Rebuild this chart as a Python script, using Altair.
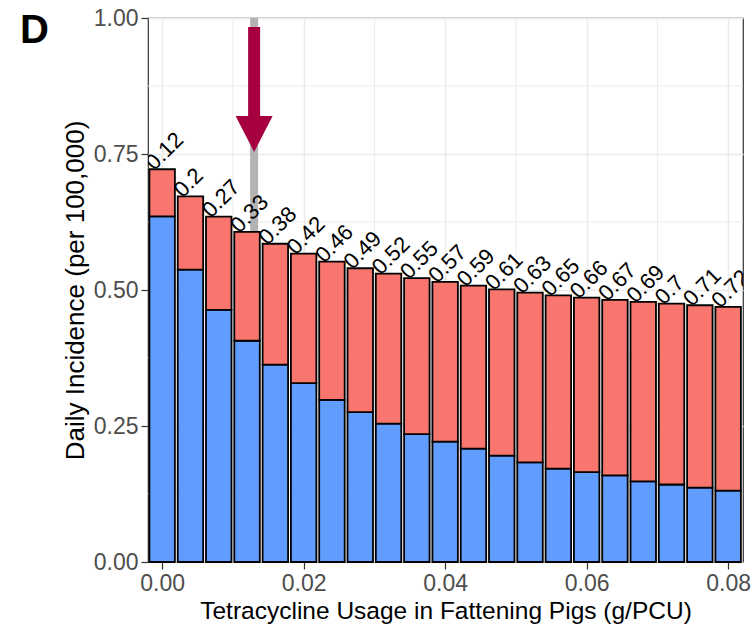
import altair as alt
import pandas as pd

# Tetracycline usage levels (g/PCU), one bar each
usage = [0.000, 0.004, 0.008, 0.012, 0.016, 0.020, 0.024, 0.028, 0.032, 0.036,
         0.040, 0.044, 0.048, 0.052, 0.056, 0.060, 0.064, 0.068, 0.072, 0.076, 0.080]

# Total daily incidence (per 100,000) at each usage level
total_incidence = [0.722, 0.672, 0.635, 0.607, 0.585, 0.567, 0.552, 0.540, 0.530, 0.522,
                   0.515, 0.508, 0.501, 0.495, 0.490, 0.486, 0.482, 0.478, 0.475, 0.472, 0.469]

# Share of the incidence that is resistant (printed above each bar)
resistant_share = [0.12, 0.2, 0.27, 0.33, 0.38, 0.42, 0.46, 0.49, 0.52, 0.55, 0.57,
                   0.59, 0.61, 0.63, 0.65, 0.66, 0.67, 0.69, 0.7, 0.71, 0.72]

# Current usage level, marked by the grey line and the arrow
current_usage = [0.013]

x_ticks = [0.00, 0.02, 0.04, 0.06, 0.08]
y_ticks = [0.00, 0.25, 0.50, 0.75, 1.00]
x_minor = [0.01, 0.03, 0.05, 0.07]
y_minor = [0.125, 0.375, 0.625, 0.875]

parts = ["Sensitive", "Resistant"]
part_colors = ["#619CFF", "#F8766D"]

HALF_WIDTH = 0.0018
FONT = "Liberation Sans"

# Long table of stacked segments
rows = []
for u, tot, share in zip(usage, total_incidence, resistant_share):
    sensitive = tot * (1 - share)
    rows.append({"usage": u, "x1": u - HALF_WIDTH, "x2": u + HALF_WIDTH,
                 "lo": 0.0, "hi": sensitive, "part": "Sensitive"})
    rows.append({"usage": u, "x1": u - HALF_WIDTH, "x2": u + HALF_WIDTH,
                 "lo": sensitive, "hi": tot, "part": "Resistant"})
seg_df = pd.DataFrame(rows)

label_df = pd.DataFrame({"usage": usage, "total": total_incidence,
                         "share": resistant_share})

X_SCALE = alt.Scale(domain=[-0.002, 0.0821], nice=False, zero=False)
Y_SCALE = alt.Scale(domain=[0, 1], nice=False)
X_TITLE = "Tetracycline Usage in Fattening Pigs (g/PCU)"
Y_TITLE = "Daily Incidence (per 100,000)"
x_axis = alt.Axis(values=x_ticks, format=".2f", title=X_TITLE, grid=True)
y_axis = alt.Axis(values=y_ticks, format=".2f", title=Y_TITLE, grid=True)


def xq(field):
    return alt.X(f"{field}:Q", scale=X_SCALE, axis=x_axis)


def yq(field):
    return alt.Y(f"{field}:Q", scale=Y_SCALE, axis=y_axis)


minor_x = alt.Chart(pd.DataFrame({"g": x_minor})).mark_rule(
    color="#ebebeb", strokeWidth=1
).encode(x=xq("g"))

minor_y = alt.Chart(pd.DataFrame({"g": y_minor})).mark_rule(
    color="#ebebeb", strokeWidth=1
).encode(y=yq("g"))

current_line = alt.Chart(pd.DataFrame({"usage": current_usage})).mark_rule(
    color="#b3b3b3", strokeWidth=8
).encode(x=xq("usage"))

bars = alt.Chart(seg_df).mark_bar(
    stroke="black", strokeWidth=1.8, opacity=1
).encode(
    x=xq("x1"),
    x2="x2:Q",
    y=yq("lo"),
    y2="hi:Q",
    color=alt.Color("part:N", scale=alt.Scale(domain=parts, range=part_colors),
                    legend=None),
)

# Resistant share labels, clipped at the panel edge
labels = alt.Chart(label_df).mark_text(
    angle=315, align="left", baseline="alphabetic", dx=-7, dy=-4,
    font=FONT, fontSize=22, color="black", clip=True
).encode(
    x=xq("usage"),
    y=yq("total"),
    text=alt.Text("share:Q", format=".2~f"),
)

# Downward arrow above the current usage line
ARROW_PATH = ("M-0.096,-1 L0.096,-1 L0.096,0.424 L0.296,0.424 L0,1 "
              "L-0.296,0.424 L-0.096,0.424 Z")
arrow = alt.Chart(pd.DataFrame({"usage": current_usage, "level": [0.8686]})).mark_point(
    shape=ARROW_PATH, size=15625, filled=True, color="#A60040", opacity=1, strokeWidth=0
).encode(x=xq("usage"), y=yq("level"))

panel_tag = alt.Chart(pd.DataFrame({"tag": ["D"]})).mark_text(
    font=FONT, fontSize=40, fontWeight="bold", color="black",
    align="left", baseline="alphabetic"
).encode(x=alt.value(-128), y=alt.value(25), text="tag:N")

chart = alt.layer(
    minor_x, minor_y, current_line, bars, labels, arrow, panel_tag
).properties(
    width=595, height=544,
    autosize=alt.AutoSizeParams(type="none"),
    padding={"left": 148, "top": 18, "right": 8, "bottom": 65},
    background="white",
).configure_view(
    stroke="#333333", strokeWidth=1.2, fill="white"
).configure_axis(
    labelFont=FONT, labelFontSize=23, labelColor="#4d4d4d", labelPadding=3,
    tickColor="#333333", tickSize=7, tickWidth=1.2,
    domain=False,
    gridColor="#ebebeb", gridWidth=1.5,
    titleFont=FONT, titleFontWeight="normal", titleColor="black",
).configure_axisX(
    titleFontSize=24.5, titlePadding=4,
).configure_axisY(
    titleFontSize=26, titlePadding=5,
)

chart.save("out.html", embed_options={"renderer": "svg", "actions": False})
